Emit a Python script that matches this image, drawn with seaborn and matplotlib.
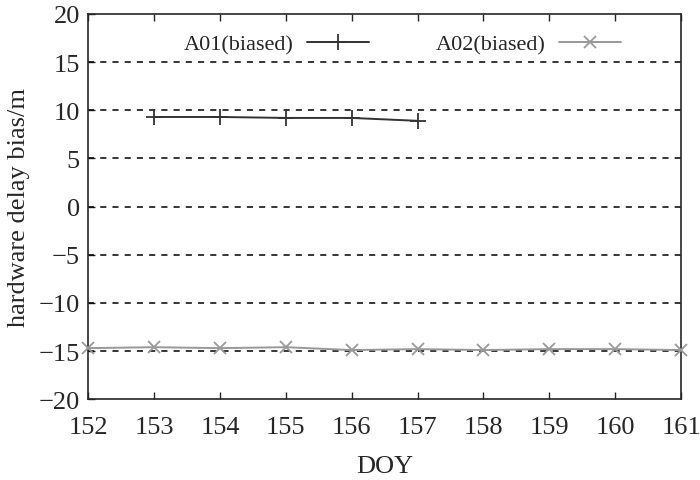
import matplotlib
matplotlib.use("Agg")
import matplotlib.pyplot as plt
import seaborn as sns
import pandas as pd

doy_a01 = [153, 154, 155, 156, 157]
bias_a01 = [9.3, 9.3, 9.2, 9.2, 8.9]
doy_a02 = [152, 153, 154, 155, 156, 157, 158, 159, 160, 161]
bias_a02 = [-14.7, -14.6, -14.7, -14.6, -14.9, -14.8, -14.9, -14.8, -14.8, -14.9]

sns.set_style("ticks")
plt.rcParams['font.family'] = ['Liberation Serif', 'DejaVu Serif']
plt.rcParams['axes.unicode_minus'] = True

df1 = pd.DataFrame({"DOY": doy_a01, "bias": bias_a01})
df2 = pd.DataFrame({"DOY": doy_a02, "bias": bias_a02})

fig, ax = plt.subplots(figsize=(7, 4.81), dpi=100)
fig.subplots_adjust(left=0.126, right=0.973, top=0.969, bottom=0.168)

for y in [-15, -10, -5, 0, 5, 10, 15]:
    ax.axhline(y, color="black", linestyle=(0, (4, 4)), linewidth=1.1, zorder=1)

sns.lineplot(data=df1, x="DOY", y="bias", ax=ax, color="#333333", marker="+",
             markersize=11, markeredgewidth=1.3, markeredgecolor="#333333",
             linewidth=1.4, label="A01(biased)", zorder=3)
sns.lineplot(data=df2, x="DOY", y="bias", ax=ax, color="#999999", marker="x",
             markersize=9, markeredgewidth=1.3, markeredgecolor="#999999",
             linewidth=1.4, label="A02(biased)", zorder=3, clip_on=False)

ax.set_xlim(152, 161)
ax.set_ylim(-20, 20)
ax.set_xticks(range(152, 162))
ax.set_yticks(range(-20, 21, 5))
ax.tick_params(direction="in", labelsize=19, top=True, right=False, length=5, width=1)
ax.tick_params(axis="x", pad=12)
ax.tick_params(axis="y", pad=6)
for s in ax.spines.values():
    s.set_linewidth(1.2)
ax.set_xlabel("DOY", fontsize=19, labelpad=12)
ax.set_ylabel("hardware delay bias/m", fontsize=19, labelpad=6)

leg = ax.legend(loc="upper center", ncol=2, frameon=False, markerfirst=False,
                fontsize=16, handlelength=2.8, columnspacing=3.0, handletextpad=0.6,
                bbox_to_anchor=(0.53, 1.0))

fig.savefig("out.png", dpi=100)
